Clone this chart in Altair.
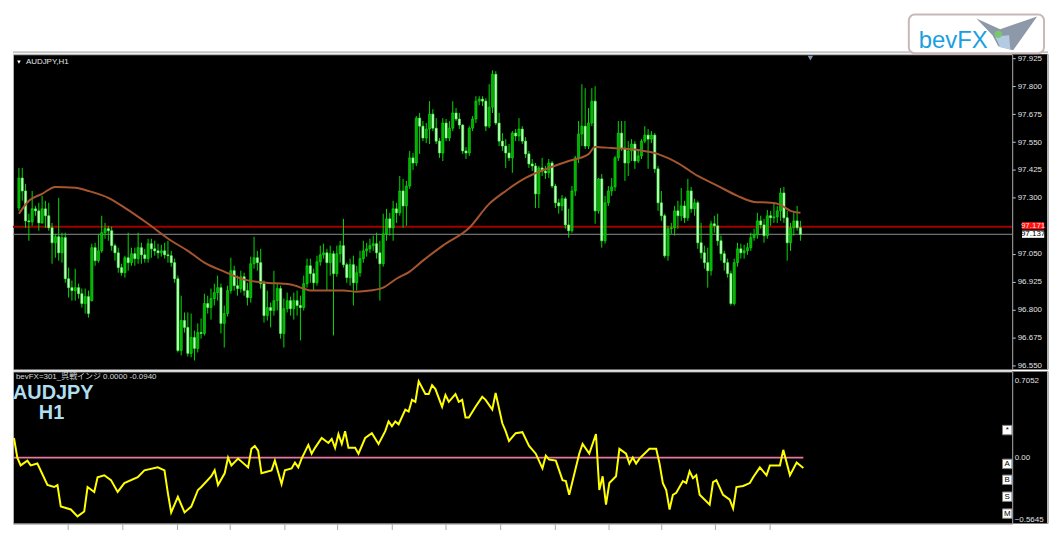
import altair as alt
import pandas as pd

# ---------------- data ----------------
OPEN = [
    97.255, 97.389, 97.331, 97.197, 97.193, 97.251, 97.242, 97.188, 97.251, 97.220,
    97.166, 97.099, 97.126, 97.054, 97.122, 96.938, 96.898, 96.885, 96.898, 96.871,
    96.827, 96.858, 96.840, 97.077, 97.019, 97.063, 97.144, 97.162, 97.153, 97.086,
    97.054, 96.988, 96.965, 97.032, 97.010, 97.050, 97.028, 97.077, 97.045, 97.028,
    97.095, 97.072, 97.063, 97.054, 97.063, 97.045, 97.041, 97.010, 96.938, 96.617,
    96.751, 96.720, 96.604, 96.675, 96.626, 96.697, 96.693, 96.827, 96.809, 96.849,
    96.876, 96.898, 96.738, 96.782, 96.885, 96.974, 96.907, 96.894, 96.947, 96.885,
    96.854, 97.005, 97.032, 97.010, 96.916, 96.773, 96.809, 96.796, 96.840, 96.894,
    96.693, 96.804, 96.840, 96.804, 96.840, 96.818, 96.809, 96.916, 96.996, 96.961,
    96.920, 97.014, 97.045, 97.054, 97.010, 97.050, 96.961, 97.050, 97.086, 97.001,
    96.943, 97.001, 96.920, 96.965, 97.028, 97.063, 97.072, 97.086, 97.095, 97.054,
    97.005, 97.139, 97.206, 97.166, 97.251, 97.233, 97.331, 97.264, 97.353, 97.479,
    97.456, 97.657, 97.621, 97.568, 97.608, 97.675, 97.612, 97.554, 97.501, 97.635,
    97.568, 97.612, 97.680, 97.653, 97.626, 97.510, 97.501, 97.612, 97.653, 97.733,
    97.742, 97.733, 97.621, 97.706, 97.853, 97.635, 97.554, 97.532, 97.501, 97.479,
    97.590, 97.577, 97.608, 97.554, 97.497, 97.452, 97.443, 97.318, 97.434, 97.420,
    97.412, 97.456, 97.353, 97.278, 97.264, 97.296, 97.179, 97.153, 97.331, 97.479,
    97.586, 97.621, 97.532, 97.635, 97.733, 97.242, 97.385, 97.108, 97.278, 97.331,
    97.349, 97.479, 97.590, 97.523, 97.456, 97.510, 97.541, 97.465, 97.488, 97.554,
    97.581, 97.563, 97.581, 97.430, 97.278, 97.220, 97.041, 97.162, 97.166, 97.242,
    97.220, 97.264, 97.211, 97.331, 97.251, 97.278, 97.099, 97.054, 97.010, 96.974,
    97.184, 97.175, 97.108, 97.050, 97.010, 96.961, 96.827, 97.010, 97.072, 97.054,
    97.063, 97.077, 97.122, 97.135, 97.197, 97.179, 97.131, 97.220, 97.211, 97.215,
    97.242, 97.322, 97.211, 97.099, 97.166, 97.197, 97.166,
]
HIGH = [
    97.434, 97.434, 97.363, 97.229, 97.331, 97.264, 97.278, 97.309, 97.287, 97.278,
    97.188, 97.139, 97.300, 97.144, 97.144, 96.988, 96.930, 96.983, 96.916, 96.894,
    96.894, 96.885, 97.095, 97.099, 97.139, 97.220, 97.188, 97.175, 97.171, 97.095,
    97.077, 97.005, 97.041, 97.144, 97.077, 97.077, 97.144, 97.099, 97.072, 97.117,
    97.117, 97.108, 97.095, 97.090, 97.099, 97.108, 97.063, 97.028, 96.952, 96.862,
    96.787, 96.787, 96.782, 96.706, 96.738, 96.760, 96.871, 96.862, 96.894, 96.916,
    96.952, 96.916, 96.818, 96.907, 97.032, 96.996, 96.952, 96.974, 96.965, 96.920,
    97.037, 97.126, 97.063, 97.072, 96.930, 96.885, 96.831, 96.974, 96.916, 96.907,
    96.849, 96.876, 96.858, 96.876, 96.885, 96.862, 96.952, 97.028, 97.028, 96.983,
    97.041, 97.086, 97.095, 97.072, 97.086, 97.063, 97.086, 97.108, 97.206, 97.010,
    97.028, 97.041, 96.996, 97.063, 97.108, 97.099, 97.117, 97.131, 97.144, 97.108,
    97.229, 97.251, 97.233, 97.287, 97.278, 97.398, 97.385, 97.376, 97.510, 97.501,
    97.666, 97.680, 97.644, 97.635, 97.733, 97.697, 97.657, 97.568, 97.657, 97.653,
    97.644, 97.733, 97.702, 97.680, 97.630, 97.527, 97.621, 97.666, 97.755, 97.755,
    97.755, 97.746, 97.809, 97.871, 97.867, 97.680, 97.590, 97.563, 97.541, 97.599,
    97.608, 97.657, 97.621, 97.572, 97.510, 97.474, 97.456, 97.443, 97.479, 97.443,
    97.474, 97.465, 97.363, 97.296, 97.313, 97.305, 97.251, 97.353, 97.488, 97.644,
    97.809, 97.791, 97.702, 97.791, 97.800, 97.389, 97.407, 97.309, 97.353, 97.389,
    97.488, 97.644, 97.644, 97.644, 97.554, 97.563, 97.554, 97.510, 97.563, 97.621,
    97.608, 97.599, 97.590, 97.443, 97.331, 97.229, 97.175, 97.188, 97.264, 97.287,
    97.344, 97.287, 97.385, 97.349, 97.296, 97.287, 97.188, 97.086, 97.077, 97.197,
    97.220, 97.229, 97.131, 97.063, 97.028, 96.974, 97.028, 97.099, 97.095, 97.090,
    97.099, 97.144, 97.162, 97.233, 97.220, 97.206, 97.246, 97.242, 97.273, 97.264,
    97.344, 97.349, 97.242, 97.188, 97.242, 97.264, 97.197,
]
LOW = [
    97.242, 97.287, 97.166, 97.108, 97.175, 97.220, 97.153, 97.184, 97.166, 97.153,
    97.005, 97.032, 97.019, 97.010, 96.920, 96.854, 96.840, 96.840, 96.849, 96.809,
    96.782, 96.764, 96.836, 96.996, 97.010, 97.054, 97.117, 97.108, 97.063, 97.019,
    96.965, 96.952, 96.943, 96.974, 96.996, 96.996, 97.005, 97.005, 97.010, 97.010,
    97.032, 97.041, 97.028, 97.037, 97.028, 97.010, 96.992, 96.920, 96.608, 96.595,
    96.697, 96.590, 96.586, 96.572, 96.608, 96.670, 96.684, 96.782, 96.755, 96.818,
    96.840, 96.693, 96.630, 96.769, 96.871, 96.885, 96.862, 96.876, 96.862, 96.818,
    96.831, 96.983, 96.974, 96.894, 96.742, 96.751, 96.720, 96.773, 96.796, 96.670,
    96.630, 96.787, 96.773, 96.755, 96.773, 96.662, 96.796, 96.898, 96.920, 96.885,
    96.907, 96.996, 97.028, 96.885, 96.952, 96.684, 96.947, 97.010, 96.988, 96.920,
    96.907, 96.818, 96.885, 96.947, 97.010, 97.037, 97.054, 97.063, 97.028, 96.840,
    96.992, 97.108, 97.131, 97.108, 97.188, 97.220, 97.166, 97.175, 97.340, 97.425,
    97.443, 97.497, 97.554, 97.545, 97.541, 97.599, 97.541, 97.479, 97.465, 97.554,
    97.554, 97.599, 97.644, 97.608, 97.497, 97.474, 97.488, 97.599, 97.635, 97.715,
    97.711, 97.599, 97.612, 97.680, 97.626, 97.532, 97.510, 97.434, 97.465, 97.412,
    97.554, 97.554, 97.541, 97.479, 97.434, 97.420, 97.255, 97.255, 97.398, 97.385,
    97.389, 97.344, 97.255, 97.229, 97.242, 97.162, 97.122, 97.144, 97.309, 97.456,
    97.532, 97.519, 97.519, 97.621, 97.184, 97.229, 97.077, 97.095, 97.264, 97.309,
    97.331, 97.465, 97.510, 97.376, 97.398, 97.465, 97.430, 97.456, 97.474, 97.545,
    97.430, 97.545, 97.412, 97.242, 97.197, 97.032, 97.019, 97.139, 97.131, 97.162,
    97.197, 97.188, 97.197, 97.233, 97.220, 97.072, 97.028, 96.983, 96.898, 96.952,
    97.144, 97.086, 97.019, 96.974, 96.943, 96.818, 96.818, 96.992, 97.028, 97.028,
    97.045, 97.063, 97.108, 97.117, 97.162, 97.099, 97.117, 97.175, 97.188, 97.188,
    97.197, 97.188, 97.019, 97.063, 97.131, 97.153, 97.108,
]
CLOSE = [
    97.389, 97.331, 97.197, 97.193, 97.251, 97.242, 97.188, 97.251, 97.220, 97.166,
    97.099, 97.126, 97.054, 97.122, 96.938, 96.898, 96.885, 96.898, 96.871, 96.827,
    96.858, 96.782, 97.077, 97.019, 97.063, 97.144, 97.162, 97.153, 97.086, 97.054,
    96.988, 96.965, 97.032, 97.010, 97.050, 97.028, 97.077, 97.045, 97.028, 97.095,
    97.072, 97.063, 97.054, 97.063, 97.045, 97.041, 97.010, 96.938, 96.617, 96.751,
    96.720, 96.604, 96.675, 96.626, 96.697, 96.693, 96.827, 96.809, 96.849, 96.876,
    96.898, 96.738, 96.782, 96.885, 96.974, 96.907, 96.894, 96.947, 96.885, 96.854,
    97.005, 97.032, 97.010, 96.916, 96.773, 96.809, 96.796, 96.840, 96.894, 96.693,
    96.804, 96.840, 96.804, 96.840, 96.818, 96.809, 96.916, 96.996, 96.961, 96.920,
    97.014, 97.045, 97.054, 97.010, 97.050, 96.961, 97.050, 97.086, 97.001, 96.943,
    97.001, 96.920, 96.965, 97.028, 97.063, 97.072, 97.086, 97.095, 97.054, 97.005,
    97.139, 97.206, 97.166, 97.251, 97.233, 97.331, 97.264, 97.353, 97.479, 97.456,
    97.657, 97.621, 97.568, 97.608, 97.675, 97.612, 97.554, 97.501, 97.635, 97.568,
    97.612, 97.680, 97.653, 97.626, 97.510, 97.501, 97.612, 97.653, 97.733, 97.742,
    97.733, 97.621, 97.706, 97.853, 97.635, 97.554, 97.532, 97.501, 97.479, 97.590,
    97.577, 97.608, 97.554, 97.497, 97.452, 97.443, 97.318, 97.434, 97.420, 97.412,
    97.456, 97.353, 97.278, 97.264, 97.296, 97.179, 97.153, 97.331, 97.479, 97.586,
    97.621, 97.532, 97.635, 97.733, 97.242, 97.385, 97.108, 97.278, 97.331, 97.349,
    97.479, 97.590, 97.523, 97.456, 97.510, 97.541, 97.465, 97.488, 97.554, 97.581,
    97.563, 97.581, 97.430, 97.278, 97.220, 97.041, 97.162, 97.166, 97.242, 97.220,
    97.264, 97.211, 97.331, 97.251, 97.278, 97.099, 97.054, 97.010, 96.974, 97.184,
    97.175, 97.108, 97.050, 97.010, 96.961, 96.827, 97.010, 97.072, 97.054, 97.063,
    97.077, 97.122, 97.135, 97.197, 97.179, 97.131, 97.220, 97.211, 97.215, 97.242,
    97.322, 97.211, 97.099, 97.166, 97.197, 97.166, 97.137,
]

# moving average (bar index, price)
MA_POINTS = [
    (0, 97.229), (3, 97.287), (7, 97.318), (11, 97.349), (17, 97.345), (21, 97.331),
    (27, 97.300), (32, 97.255), (39, 97.184), (46, 97.108), (51, 97.063), (56, 97.010),
    (62, 96.970), (68, 96.934), (74, 96.921), (82, 96.912), (86, 96.894), (88, 96.885),
    (98, 96.885), (102, 96.880), (106, 96.885), (110, 96.898), (114, 96.938), (118, 96.970),
    (122, 97.019), (128, 97.086), (136, 97.166), (142, 97.273), (147, 97.331), (153, 97.389),
    (160, 97.434), (166, 97.465), (172, 97.496), (174, 97.528), (179, 97.523), (187, 97.514),
    (193, 97.496), (199, 97.456), (205, 97.398), (211, 97.354), (217, 97.309), (222, 97.282),
    (227, 97.278), (230, 97.269), (233, 97.242), (236, 97.233),
]

# indicator (bar index, value)
IND_POINTS = [
    (0, 0.179), (1, 0.000), (2, -0.071), (4, -0.027), (5, -0.071), (7, -0.054), (10, -0.250),
    (12, -0.268), (13, -0.250), (14, -0.446), (17, -0.473), (19, -0.536), (21, -0.491),
    (22, -0.268), (24, -0.313), (25, -0.179), (27, -0.161), (29, -0.205), (31, -0.313),
    (33, -0.232), (37, -0.179), (39, -0.116), (43, -0.089), (45, -0.116), (46, -0.321),
    (47, -0.500), (49, -0.357), (51, -0.500), (53, -0.446), (55, -0.295), (56, -0.268),
    (59, -0.170), (60, -0.116), (61, -0.250), (63, -0.143), (64, 0.000), (65, -0.071),
    (67, -0.009), (70, -0.089), (71, 0.080), (72, 0.107), (73, 0.063), (74, -0.143),
    (77, -0.116), (78, -0.027), (80, -0.241), (81, -0.116), (83, -0.098), (84, -0.045),
    (85, -0.089), (86, -0.009), (88, 0.116), (89, 0.036), (90, 0.089), (92, 0.179),
    (94, 0.134), (95, 0.170), (96, 0.089), (97, 0.214), (98, 0.125), (99, 0.241),
    (100, 0.089), (102, 0.089), (103, 0.036), (105, 0.179), (107, 0.223), (109, 0.125),
    (111, 0.241), (112, 0.330), (113, 0.286), (114, 0.330), (115, 0.304), (117, 0.438),
    (118, 0.420), (119, 0.527), (120, 0.509), (121, 0.696), (123, 0.580), (124, 0.580),
    (125, 0.661), (126, 0.625), (128, 0.464), (129, 0.571), (130, 0.509), (132, 0.580),
    (133, 0.509), (134, 0.527), (135, 0.366), (136, 0.366), (138, 0.464), (140, 0.554),
    (141, 0.527), (143, 0.438), (144, 0.589), (146, 0.313), (147, 0.241), (148, 0.152),
    (150, 0.223), (152, 0.232), (154, 0.107), (156, 0.036), (158, -0.098), (159, 0.018),
    (160, -0.018), (162, -0.027), (164, -0.205), (165, -0.214), (166, -0.339), (169, 0.036),
    (170, 0.125), (172, 0.036), (174, 0.214), (175, -0.295), (176, -0.170), (177, -0.429),
    (178, -0.232), (180, -0.170), (181, 0.080), (183, 0.036), (184, -0.054), (185, 0.000),
    (186, -0.054), (187, -0.009), (190, 0.080), (192, 0.080), (193, -0.054), (194, -0.232),
    (195, -0.295), (196, -0.473), (197, -0.339), (198, -0.321), (200, -0.214), (201, -0.232),
    (202, -0.125), (203, -0.188), (204, -0.161), (205, -0.339), (208, -0.429), (209, -0.223),
    (210, -0.205), (212, -0.339), (214, -0.384), (215, -0.464), (216, -0.268), (218, -0.259),
    (220, -0.232), (221, -0.179), (223, -0.089), (225, -0.161), (226, -0.071), (229, -0.071),
    (230, 0.071), (232, -0.161), (234, -0.045), (236, -0.094),
]

PRICE_TICKS = [96.550, 96.675, 96.800, 96.925, 97.050, 97.300, 97.425, 97.550, 97.675, 97.800, 97.925]
IND_TICKS = [-0.5645, 0.0, 0.7052]
TIME_TICKS = [16.0, 32.4, 48.8, 64.5, 80.9, 96.6, 113.0, 129.0, 145.4, 161.7, 177.8, 193.5, 209.6, 225.9]
ASK = 97.171
BID = 97.137
ZERO_SPAN = [0, 236]

SYMBOL_TEXT = "AUDJPY,H1"
IND_TEXT = "bevFX=301_呉戦インジ 0.0000 -0.0940"
LOGO_TEXT = "bevFX"
BUTTONS = ["*", "A", "B", "S", "M"]
BUTTON_Y = [59, 93, 109, 126, 143]

# ---------------- layout ----------------
W = 1005
AXW = 36
H_PRICE = 317
H_IND = 153
FONT = "Liberation Sans"

bars = pd.DataFrame({"bar": list(range(len(OPEN))), "open": OPEN, "high": HIGH,
                     "low": LOW, "close": CLOSE})
bars["dir"] = ["up" if c >= o else "down" for o, c in zip(OPEN, CLOSE)]
ma = pd.DataFrame(MA_POINTS, columns=["bar", "ma"])
ind = pd.DataFrame(IND_POINTS, columns=["bar", "val"])
zero_df = pd.DataFrame({"bar": ZERO_SPAN, "val": [0.0, 0.0]})
dummy = pd.DataFrame({"k": [0]})

xs = alt.Scale(domain=[-0.3, 298.45], nice=False, zero=False)
ys = alt.Scale(domain=[96.532, 97.943], nice=False, zero=False)
iys = alt.Scale(domain=[-0.601, 0.786], nice=False, zero=False)

price_axis = alt.Axis(orient="right", values=PRICE_TICKS, format=".3f", title=None, grid=False,
                      labelColor="#e0e0e0", labelFont=FONT, labelFontSize=8, labelPadding=2,
                      tickColor="#c8c8c8", tickSize=3, domainColor="#a8a8a8", zindex=1,
                      labelOverlap=False, labelFlush=False)
ind_axis = alt.Axis(orient="right", values=IND_TICKS, title=None, grid=False,
                    labelExpr="datum.value == 0 ? '0.00' : format(datum.value, '.4f')",
                    labelColor="#e0e0e0", labelFont=FONT, labelFontSize=8, labelPadding=2,
                    ticks=False, domainColor="#a8a8a8", zindex=1,
                    labelOverlap=False, labelFlush=False)
time_axis = alt.Axis(orient="bottom", values=TIME_TICKS, labels=False, title=None, grid=False,
                     tickColor="#a8a8a8", tickSize=6, domainColor="#a8a8a8", zindex=1)
nox = alt.X("bar:Q", scale=xs, axis=None)


def axis_area(h):
    bg = alt.Chart(dummy).mark_rect(color="black").encode(
        x=alt.value(W), x2=alt.value(W + AXW), y=alt.value(0), y2=alt.value(h))
    edge = alt.Chart(dummy).mark_rule(color="#b4b4b4", strokeWidth=2).encode(
        x=alt.value(W + AXW), y=alt.value(0), y2=alt.value(h))
    return bg, edge


# ---------------- logo (drawn above the price panel) ----------------
top_border = alt.Chart(dummy).mark_rule(color="#c4c4c4", strokeWidth=2).encode(
    x=alt.value(0), x2=alt.value(W + AXW), y=alt.value(-2))
logo_box = alt.Chart(dummy).mark_rect(fill="white", stroke="#c8b8b8", strokeWidth=2,
                                      cornerRadius=6).encode(
    x=alt.value(901), x2=alt.value(1037), y=alt.value(-40), y2=alt.value(-1))
logo_text = alt.Chart(dummy).mark_text(text=LOGO_TEXT, align="left", baseline="alphabetic",
                                       font=FONT, fontSize=24, color="#1c9fe0").encode(
    x=alt.value(911), y=alt.value(-6))
bird = alt.Chart(dummy).mark_point(
    shape="M-1,-0.48L-0.23,-0.13L0.97,-0.55L0.19,0.55L-0.29,0.42L-0.48,0.06Z",
    filled=True, color="#8d99a8", opacity=1, size=3844).encode(
    x=alt.value(1000), y=alt.value(-21))
bird_light = alt.Chart(dummy).mark_point(
    shape="M-0.39,0.1L0.06,0.06L0.1,0.52L-0.23,0.45Z", filled=True, color="#b3cbe2",
    opacity=1, size=3844).encode(x=alt.value(1000), y=alt.value(-21))
bird_dot = alt.Chart(dummy).mark_point(shape="circle", filled=True, color="#78c86e",
                                       opacity=1, size=55).encode(
    x=alt.value(991), y=alt.value(-20))

# ---------------- price panel ----------------
pbg, pedge = axis_area(H_PRICE)
ask_df = pd.DataFrame({"price": [ASK]})
bid_df = pd.DataFrame({"price": [BID]})
ask_line = alt.Chart(ask_df).mark_rule(color="#a00000", strokeWidth=2).encode(
    y=alt.Y("price:Q", scale=ys, axis=price_axis))
bid_line = alt.Chart(bid_df).mark_rule(color="#8c8c8c", strokeWidth=1).encode(
    y=alt.Y("price:Q", scale=ys, axis=price_axis))
wicks = alt.Chart(bars).mark_rule(color="#00dc00", strokeWidth=1).encode(
    x=nox, y=alt.Y("low:Q", scale=ys, axis=price_axis), y2="high:Q")
bodies = alt.Chart(bars).mark_bar(size=2.2, strokeWidth=0.6).encode(
    x=nox, y=alt.Y("open:Q", scale=ys, axis=price_axis), y2="close:Q",
    color=alt.Color("dir:N", scale=alt.Scale(domain=["up", "down"], range=["#00b000", "#c8ffc8"]),
                    legend=None),
    stroke=alt.Stroke("dir:N", scale=alt.Scale(domain=["up", "down"], range=["#10e010", "#40ff40"]),
                      legend=None))
ma_line = alt.Chart(ma).mark_line(color="#a5562e", strokeWidth=2, interpolate="monotone").encode(
    x=nox, y=alt.Y("ma:Q", scale=ys, axis=price_axis))
box_shape = "M-1,-0.32L1,-0.32L1,0.32L-1,0.32Z"
ask_box = alt.Chart(ask_df).mark_point(
    shape=box_shape, filled=True, color="#ff1010", opacity=1, size=500, yOffset=-1).encode(
    x=alt.value(W + 21), y=alt.Y("price:Q", scale=ys, axis=price_axis))
bid_box = alt.Chart(bid_df).mark_point(
    shape=box_shape, filled=True, color="white", opacity=1, size=500).encode(
    x=alt.value(W + 21), y=alt.Y("price:Q", scale=ys, axis=price_axis))
ask_txt = alt.Chart(ask_df).mark_text(
    text=f"{ASK:.3f}", font=FONT, fontSize=8, color="#ffe0e0", align="center", baseline="middle",
    yOffset=-1).encode(x=alt.value(W + 21), y=alt.Y("price:Q", scale=ys, axis=price_axis))
bid_txt = alt.Chart(bid_df).mark_text(
    text=f"{BID:.3f}", font=FONT, fontSize=8, color="black", align="center", baseline="middle").encode(
    x=alt.value(W + 21), y=alt.Y("price:Q", scale=ys, axis=price_axis))
sym_tri = alt.Chart(dummy).mark_point(shape="triangle-down", filled=True, color="white",
                                      opacity=1, size=14).encode(x=alt.value(6), y=alt.value(8))
sym_txt = alt.Chart(dummy).mark_text(text=SYMBOL_TEXT, align="left", baseline="middle", font=FONT,
                                     fontSize=8, color="#e6e6e6").encode(
    x=alt.value(13), y=alt.value(8))
shift_tri = alt.Chart(dummy).mark_point(shape="triangle-down", filled=True, color="#7d93ab",
                                        opacity=1, size=30).encode(x=alt.value(802), y=alt.value(4))

price = alt.layer(pbg, ask_line, bid_line, wicks, bodies, ma_line, ask_box, bid_box, ask_txt,
                  bid_txt, sym_tri, sym_txt, shift_tri, pedge, top_border,
                  logo_box, logo_text, bird, bird_light, bird_dot).properties(
    width=W, height=H_PRICE, view=alt.ViewBackground(fill="black", stroke="#b4b4b4"))

# ---------------- indicator panel ----------------
ibg, iedge = axis_area(H_IND)
zero_line = alt.Chart(zero_df).mark_line(color="#e8789f", strokeWidth=2).encode(
    x=alt.X("bar:Q", scale=xs, axis=time_axis), y=alt.Y("val:Q", scale=iys, axis=ind_axis))
ind_line = alt.Chart(ind).mark_line(color="#ffff00", strokeWidth=2).encode(
    x=alt.X("bar:Q", scale=xs, axis=time_axis), y=alt.Y("val:Q", scale=iys, axis=ind_axis))
ind_label = alt.Chart(dummy).mark_text(text=IND_TEXT, align="left", baseline="middle",
                                       font="Liberation Sans, Noto Sans CJK JP", fontSize=8,
                                       color="#d8d8d8").encode(x=alt.value(3), y=alt.value(6))
big1 = alt.Chart(dummy).mark_text(text="AUDJPY", align="left", baseline="alphabetic", font=FONT,
                                  fontSize=20, fontWeight="bold", color="#b0deef").encode(
    x=alt.value(0), y=alt.value(28))
big2 = alt.Chart(dummy).mark_text(text="H1", align="left", baseline="alphabetic", font=FONT,
                                  fontSize=20, fontWeight="bold", color="#b0deef").encode(
    x=alt.value(26), y=alt.value(48))
btn_df = pd.DataFrame({"t": BUTTONS, "py": BUTTON_Y})
btn_bg = alt.Chart(btn_df).mark_point(shape="square", filled=True, color="white", opacity=1,
                                      size=90, stroke="#808080", strokeWidth=1).encode(
    x=alt.value(W - 5), y=alt.Y("py:Q", scale=None, axis=None))
btn_txt = alt.Chart(btn_df).mark_text(font=FONT, fontSize=8, color="black", baseline="middle",
                                      align="center").encode(
    x=alt.value(W - 5), y=alt.Y("py:Q", scale=None, axis=None), text="t:N")

indicator = alt.layer(ibg, zero_line, ind_line, ind_label, big1, big2, btn_bg, btn_txt,
                      iedge).properties(
    width=W, height=H_IND, view=alt.ViewBackground(fill="black", stroke="#b4b4b4"))

chart = alt.vconcat(price, indicator, spacing=2, bounds="flush").properties(
    padding={"left": 1, "top": 3, "right": 0, "bottom": 0}, background="white"
).resolve_scale(y="independent", x="independent")

chart.save("out.html", embed_options={"renderer": "svg", "actions": False})
